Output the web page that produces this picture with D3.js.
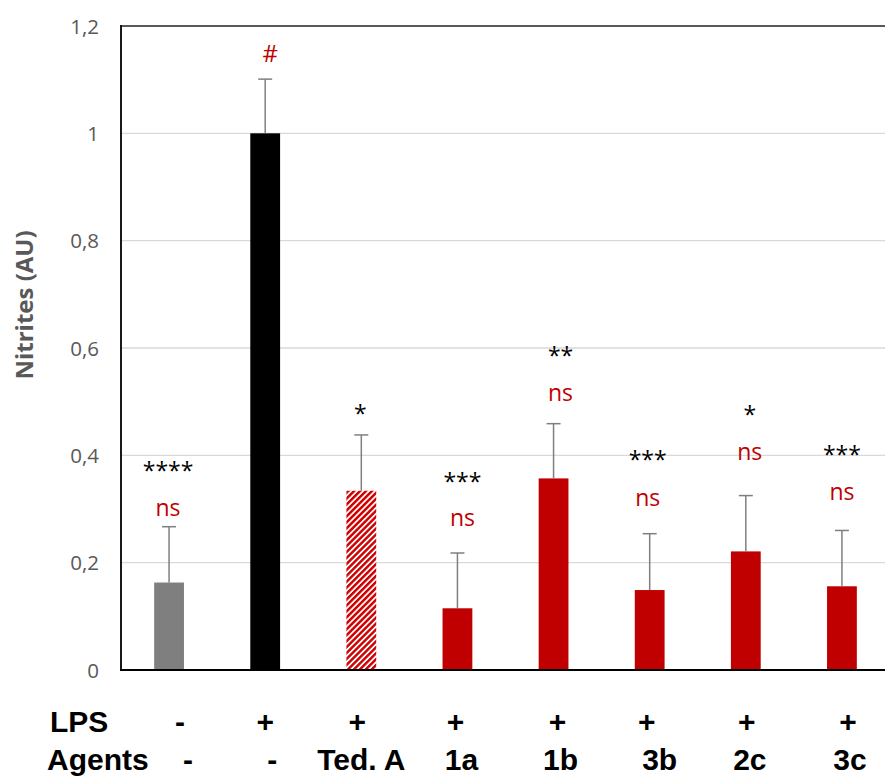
<!DOCTYPE html>
<html><head><meta charset="utf-8">
<script src="https://cdn.jsdelivr.net/npm/d3@7"></script>
<style>body{margin:0;background:#fff}svg{display:block}</style>
</head><body><svg id="c" width="885" height="776"></svg>
<script>
// ---- data ----
const categories = ["Control","LPS","Ted. A","1a","1b","3b","2c","3c"];
const values = [0.163, 1.000, 0.334, 0.115, 0.357, 0.149, 0.221, 0.156];
const errors = [0.104, 0.101, 0.104, 0.103, 0.102, 0.105, 0.104, 0.104];
const barKinds = ["gray","black","hatch","red","red","red","red","red"];
const yTicks = [0, 0.2, 0.4, 0.6, 0.8, 1.0, 1.2];
const lpsLabels = ["-","+","+","+","+","+","+","+"];
const agentLabels = ["-","-","Ted. A","1a","1b","3b","2c","3c"];
const sigVsLps = ["****","","*","***","**","***","*","***"];
const sigVsLpsLevel = [0.380, null, 0.486, 0.359, 0.593, 0.399, 0.483, 0.409];
const sigVsCtrl = ["ns","#","","ns","ns","ns","ns","ns"];
const sigVsCtrlLevel = [0.299, 1.149, null, 0.279, 0.512, 0.318, 0.402, 0.328];

// ---- layout ----
const W = 885, H = 776;
const pLeft = 121, pRight = 890, pTop = 26, pBottom = 670;
const annDx = [-1, 5, -1, 5, 7, -2, 4, 0];
const lpsDx = [11, 0, -4, -2, 4, -3, 1, 6];
const agentDx = [19, 7, 0, 4, 7, 10, 4, 8];
const colors = {gray:"#7f7f7f", black:"#000000", red:"#c00000", hatch:"url(#hatch)"};

const svg = d3.select("#c");
const defs = svg.append("defs");
const pat = defs.append("pattern").attr("id","hatch").attr("patternUnits","userSpaceOnUse")
  .attr("width",4.2).attr("height",4.2).attr("patternTransform","rotate(45)");
pat.append("rect").attr("width",4.2).attr("height",4.2).attr("fill","#fff");
pat.append("line").attr("x1",1.2).attr("x2",1.2).attr("y1",0).attr("y2",4.2)
  .attr("stroke","#d00000").attr("stroke-width",2.5);

const x = d3.scaleBand().domain(categories).range([pLeft, pRight]).paddingInner(0.69).paddingOuter(0.345);
const y = d3.scaleLinear().domain([0, 1.2]).range([pBottom, pTop]);

// gridlines
svg.append("g").selectAll("line").data(yTicks.filter(t => t > 0 && t < 1.2)).join("line")
  .attr("x1", pLeft).attr("x2", W).attr("y1", d => y(d)).attr("y2", d => y(d))
  .attr("stroke", "#d9d9d9").attr("stroke-width", 1.3);

// y axis with tick labels
const yAxis = d3.axisLeft(y).tickValues(yTicks).tickSize(0).tickPadding(22)
  .tickFormat(d => d3.format("~g")(d).replace(".", ","));
const ga = svg.append("g").attr("transform", `translate(${pLeft},0)`).call(yAxis);
ga.select(".domain").remove();
ga.selectAll("text").attr("fill", "#595959").style("font-family", "'Open Sans', sans-serif")
  .style("font-size", "20.5px").attr("dy", "0.35em");

// frame lines
svg.append("line").attr("x1", pLeft).attr("x2", W).attr("y1", pTop).attr("y2", pTop)
  .attr("stroke", "#595959").attr("stroke-width", 2);
svg.append("line").attr("x1", pLeft).attr("x2", pLeft).attr("y1", pTop - 1).attr("y2", pBottom + 1)
  .attr("stroke", "#000").attr("stroke-width", 1.8);

// bars
svg.append("g").selectAll("rect").data(categories).join("rect")
  .attr("x", d => x(d)).attr("width", x.bandwidth())
  .attr("y", (d, i) => y(values[i])).attr("height", (d, i) => y(0) - y(values[i]))
  .attr("fill", (d, i) => colors[barKinds[i]]);

// error bars
const eb = svg.append("g").attr("stroke", "#7f7f7f").attr("stroke-width", 1.5);
categories.forEach((c, i) => {
  const cx = x(c) + x.bandwidth() / 2;
  eb.append("line").attr("x1", cx).attr("x2", cx).attr("y1", y(values[i])).attr("y2", y(values[i] + errors[i]));
  eb.append("line").attr("x1", cx - 7).attr("x2", cx + 7).attr("y1", y(values[i] + errors[i])).attr("y2", y(values[i] + errors[i]));
});

// bottom axis line
svg.append("line").attr("x1", pLeft - 1).attr("x2", W).attr("y1", pBottom).attr("y2", pBottom)
  .attr("stroke", "#000").attr("stroke-width", 1.8);

// annotations
const annFont = "'Open Sans', sans-serif";
categories.forEach((c, i) => {
  const cx = x(c) + x.bandwidth() / 2 + annDx[i];
  if (sigVsLps[i]) {
    svg.append("text").attr("x", cx).attr("y", y(sigVsLpsLevel[i]) + 12.5)
      .attr("text-anchor", "middle").attr("fill", "#000")
      .style("font-family", annFont).style("font-size", "23px").text(sigVsLps[i]);
  }
  if (sigVsCtrl[i]) {
    const isHash = sigVsCtrl[i] === "#";
    svg.append("text").attr("x", cx).attr("y", y(sigVsCtrlLevel[i]) + (isHash ? 8.5 : 6.2))
      .attr("text-anchor", "middle").attr("fill", "#c00000")
      .style("font-family", annFont).style("font-size", isHash ? "24px" : "23px").text(sigVsCtrl[i]);
  }
});

// y axis title
svg.append("text").attr("transform", "translate(33,305) rotate(-90)")
  .attr("text-anchor", "middle").attr("fill", "#595959")
  .style("font-family", annFont).style("font-weight", "bold").style("font-size", "24px")
  .text("Nitrites (AU)");

// bottom table labels
const lblFont = "'Liberation Sans', Arial, sans-serif";
const tbl = svg.append("g").style("font-family", lblFont).style("font-weight", "bold").style("font-size", "30px").attr("fill", "#000");
tbl.append("text").attr("x", 50).attr("y", 732).text("LPS");
tbl.append("text").attr("x", 47).attr("y", 770).text("Agents");
categories.forEach((c, i) => {
  const cx = x(c) + x.bandwidth() / 2;
  tbl.append("text").attr("x", cx + lpsDx[i]).attr("y", 732).attr("text-anchor", "middle").text(lpsLabels[i]);
  tbl.append("text").attr("x", cx + agentDx[i]).attr("y", 770).attr("text-anchor", "middle").text(agentLabels[i]);
});
</script>
</body></html>
